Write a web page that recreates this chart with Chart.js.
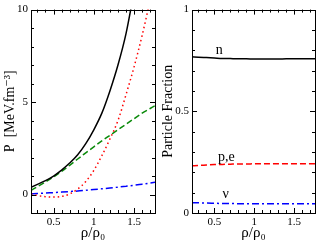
<!DOCTYPE html>
<html>
<head>
<meta charset="utf-8">
<script src="https://cdn.jsdelivr.net/npm/chart.js@4"></script>
<style>
  html, body { margin: 0; padding: 0; background: #fff; }
  #wrap { position: relative; width: 317px; height: 242px; }
  #left { position: absolute; left: 0; top: 0; }
  #right { position: absolute; left: 158px; top: 0; }
</style>
</head>
<body>
<div id="wrap">
  <canvas id="left" width="158" height="242"></canvas>
  <canvas id="right" width="159" height="242"></canvas>
</div>
<script>
// density rho/rho0
let rho = [0.22, 0.3, 0.4, 0.5, 0.6, 0.7, 0.8, 0.9, 1.0, 1.1, 1.2, 1.3, 1.4, 1.5, 1.6, 1.7, 1.76];

// pressure curves (left panel)
let pBlack = [0.39, 0.55, 0.75, 1.0, 1.32, 1.7, 2.15, 2.75, 3.5, 4.4, 5.6, 7.0, 8.7, 11.0, 13.5, 16.0, 17.5];
let pRed = [0.03, -0.05, -0.12, -0.14, -0.1, 0.03, 0.3, 0.7, 1.3, 2.1, 3.0, 4.0, 5.4, 6.9, 8.6, 10.5, 11.6];
let pGreen = [0.22, 0.42, 0.68, 0.95, 1.25, 1.58, 1.92, 2.25, 2.58, 2.9, 3.2, 3.5, 3.8, 4.1, 4.4, 4.65, 4.8];
let pBlue = [0.04, 0.05, 0.08, 0.1, 0.13, 0.16, 0.19, 0.23, 0.27, 0.31, 0.35, 0.4, 0.45, 0.5, 0.56, 0.62, 0.66];

// particle fractions (right panel)
let fracN = [0.768, 0.766, 0.764, 0.762, 0.760, 0.759, 0.758, 0.758, 0.757, 0.757, 0.757, 0.757, 0.758, 0.758, 0.758, 0.758, 0.758];
let fracPE = [0.232, 0.234, 0.236, 0.238, 0.239, 0.240, 0.241, 0.241, 0.242, 0.242, 0.242, 0.242, 0.242, 0.242, 0.242, 0.242, 0.242];
let fracNu = [0.051, 0.050, 0.049, 0.048, 0.047, 0.047, 0.046, 0.046, 0.046, 0.046, 0.046, 0.046, 0.046, 0.046, 0.046, 0.046, 0.046];

// curve labels in the right panel
let fracLabels = ['n', 'p,e', 'ν'];
let fracLabelX = [0.56, 0.65, 0.64];
let fracLabelY = [0.80, 0.275, 0.09];

// ticks
let xMajor = [0.5, 1, 1.5];
let xMinor = [0.3, 0.4, 0.6, 0.7, 0.8, 0.9, 1.1, 1.2, 1.3, 1.4, 1.6, 1.7];
let pMajor = [0, 5, 10];
let pMinor = [-1, 1, 2, 3, 4, 6, 7, 8, 9];
let fMajor = [0, 0.5, 1];
let fMinor = [0.1, 0.2, 0.3, 0.4, 0.6, 0.7, 0.8, 0.9];

const serif = "'Liberation Serif', 'DejaVu Serif', serif";

function pts(ys) {
  return rho.map((x, i) => ({ x: x, y: ys[i] }));
}

// frame with inward ticks on all four sides
const frameTicks = {
  id: 'frameTicks',
  afterDraw(chart, args, opts) {
    const ctx = chart.ctx;
    const a = chart.chartArea;
    const xs = chart.scales.x, ys = chart.scales.y;
    ctx.save();
    ctx.strokeStyle = '#000';
    ctx.lineWidth = 1;
    ctx.strokeRect(Math.round(a.left) + 0.5, Math.round(a.top) + 0.5,
      Math.round(a.right - a.left), Math.round(a.bottom - a.top));
    ctx.beginPath();
    const mark = (vals, len, horiz) => {
      vals.forEach(v => {
        if (horiz) {
          const px = Math.round(xs.getPixelForValue(v)) + 0.5;
          ctx.moveTo(px, a.bottom); ctx.lineTo(px, a.bottom - len);
          ctx.moveTo(px, a.top); ctx.lineTo(px, a.top + len);
        } else {
          const py = Math.round(ys.getPixelForValue(v)) + 0.5;
          ctx.moveTo(a.left, py); ctx.lineTo(a.left + len, py);
          ctx.moveTo(a.right, py); ctx.lineTo(a.right - len, py);
        }
      });
    };
    mark(xMajor, 5, true);
    mark(xMinor, 3, true);
    mark(opts.yMajor, 5, false);
    mark(opts.yMinor, 3, false);
    ctx.stroke();

    if (opts.labels) {
      ctx.fillStyle = '#000';
      ctx.font = '14px ' + serif;
      ctx.textAlign = 'center';
      ctx.textBaseline = 'middle';
      opts.labels.forEach((t, i) => {
        ctx.fillText(t, xs.getPixelForValue(fracLabelX[i]), ys.getPixelForValue(fracLabelY[i]));
      });
    }
    ctx.restore();
  }
};

function line(data, color, dash, width) {
  return {
    data: data,
    borderColor: color,
    borderWidth: width || 1.5,
    borderDash: dash,
    pointRadius: 0,
    fill: false,
    cubicInterpolationMode: 'monotone'
  };
}

function makeChart(id, datasets, yMin, yMax, yMajor, yMinor, yTitle, yWidth, padRight, labels) {
  return new Chart(document.getElementById(id).getContext('2d'), {
    type: 'line',
    data: { datasets: datasets },
    options: {
      responsive: false,
      animation: false,
      layout: { padding: { top: 5, right: padRight, left: 0, bottom: 0 } },
      plugins: {
        legend: { display: false },
        tooltip: { enabled: false },
        frameTicks: { yMajor: yMajor, yMinor: yMinor, labels: labels }
      },
      scales: {
        x: {
          type: 'linear',
          min: 0.22,
          max: 1.76,
          grid: { display: false, drawTicks: false },
          border: { display: false },
          afterBuildTicks: s => { s.ticks = xMajor.map(v => ({ value: v })); },
          afterFit: s => { s.height = 29; },
          ticks: { color: '#000', font: { family: serif, size: 11, weight: 'normal' }, padding: 3, maxRotation: 0,
                   callback: v => String(v) },
          title: { display: true, text: 'ρ/ρ₀', color: '#000',
                   font: { family: serif, size: 15, weight: 'normal' }, padding: { top: 0, bottom: 0 } }
        },
        y: {
          type: 'linear',
          min: yMin,
          max: yMax,
          grid: { display: false, drawTicks: false },
          border: { display: false },
          afterBuildTicks: s => { s.ticks = yMajor.map(v => ({ value: v })); },
          afterFit: s => { s.width = yWidth; },
          ticks: { color: '#000', font: { family: serif, size: 11, weight: 'normal' }, padding: 3,
                   callback: v => String(v) },
          title: { display: true, text: yTitle, color: '#000',
                   font: { family: serif, size: 14, weight: 'normal' }, padding: { top: 2, bottom: 0 } }
        }
      }
    },
    plugins: [frameTicks]
  });
}

makeChart('left', [
  line(pts(pBlack), '#000000', []),
  line(pts(pRed), '#ff0000', [1.5, 3]),
  line(pts(pGreen), '#0a8a0a', [6, 3]),
  line(pts(pBlue), '#0000ff', [7, 3, 2, 3])
], -1, 10, pMajor, pMinor, 'P  [MeV.fm⁻³]', 31, 3, null);

makeChart('right', [
  line(pts(fracN), '#000000', []),
  line(pts(fracPE), '#ff0000', [6, 3]),
  line(pts(fracNu), '#0000ff', [7, 3, 2, 3])
], 0, 1, fMajor, fMinor, 'Particle Fraction', 34, 2, fracLabels);
</script>
</body>
</html>
